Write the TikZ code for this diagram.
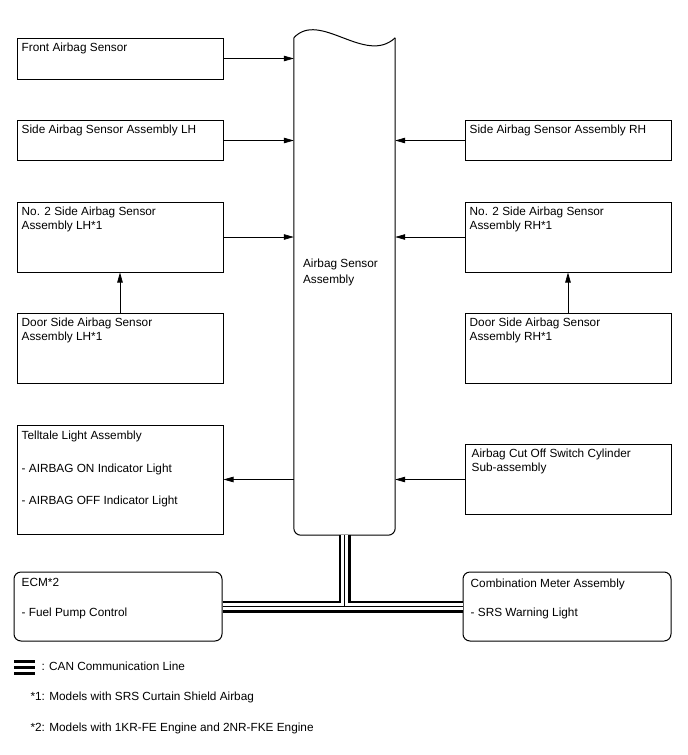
\documentclass[tikz,border=0pt]{standalone}
\usepackage{fontspec}
\setmainfont{Liberation Sans}
\usetikzlibrary{arrows.meta, positioning, calc}

\begin{document}
\begin{tikzpicture}[
			x=1pt, y=-1pt,
			node distance=40.5pt and 241pt,
			font=\fontsize{11.8}{14}\selectfont,
			unit/.style={rectangle, draw, line width=1pt, minimum width=206pt, inner sep=0pt},
			meter/.style={unit, rounded corners=7pt, minimum width=208pt, minimum height=69pt},
			txt/.style={anchor=north west, inner sep=5pt, align=left},
			arrow/.style={-{Triangle[length=10pt, width=5.5pt]}, line width=0.7pt},
			canbg/.style={line width=12pt, black},
			cangap/.style={line width=7pt, white},
			canmid/.style={line width=1.2pt, black}
		]
		\useasboundingbox (0,0) rectangle (688,755);
		
		% Left column
		\node[unit, minimum height=41pt, label={[txt]north west:Front Airbag Sensor}] (front) at (120,58.5) {};
		\node[unit, minimum height=40pt, below=of front, label={[txt]north west:Side Airbag Sensor Assembly LH}] (sidelh) {};
		\node[unit, minimum height=70pt, below=of sidelh, label={[txt]north west:{No. 2 Side Airbag Sensor\\Assembly LH*1}}] (no2lh) {};
		\node[unit, minimum height=70pt, below=of no2lh, label={[txt]north west:{Door Side Airbag Sensor\\Assembly LH*1}}] (doorlh) {};
		\node[unit, minimum height=109pt, below=of doorlh, label={[txt, yshift=-1pt]north west:{Telltale Light Assembly\\[19pt]- AIRBAG ON Indicator Light\\[18pt]- AIRBAG OFF Indicator Light}}] (tell) {};
		
		% Right column
		\node[unit, minimum height=40pt, right=of sidelh, label={[txt]north west:Side Airbag Sensor Assembly RH}] (siderh) {};
		\node[unit, minimum height=70pt, right=of no2lh, label={[txt]north west:{No. 2 Side Airbag Sensor\\Assembly RH*1}}] (no2rh) {};
		\node[unit, minimum height=70pt, right=of doorlh, label={[txt]north west:{Door Side Airbag Sensor\\Assembly RH*1}}] (doorrh) {};
		\node[unit, minimum height=70pt, right=of tell, label={[txt, xshift=2pt]north west:{Airbag Cut Off Switch Cylinder\\Sub-assembly}}] (cutoff) {};
		
		% Airbag sensor assembly
		\node[minimum width=101pt, minimum height=497pt, inner sep=0pt] (ecu) at (344.5,286.5) {};
		\draw[line width=1pt, rounded corners=7pt] (ecu.north west) -- (ecu.south west) -- (ecu.south east) -- (ecu.north east);
		\draw[line width=1pt] (ecu.north west) .. controls ($(ecu.north west)+(26,-28)$) and ($(ecu.north east)+(-30,28)$) .. (ecu.north east);
		\node[anchor=west, align=left] (ecutxt) at (299.5,272) {Airbag Sensor\\[2pt]Assembly};
		
		\node[meter, label={[txt, xshift=3pt, yshift=-2pt]north west:{ECM*2\\[16pt]- Fuel Pump Control}}] (ecm) at (118,606.5) {};
		\node[meter, label={[txt, xshift=3pt, yshift=-2pt]north west:{Combination Meter Assembly\\[15pt]- SRS Warning Light}}] (comb) at (567,606.5) {};
		
		\draw[arrow] (front) -- (front -| ecu.west);
		\draw[arrow] (sidelh) -- (sidelh -| ecu.west);
		\draw[arrow] (no2lh) -- (no2lh -| ecu.west);
		\draw[arrow] (doorlh) -- (no2lh);
		\draw[arrow] (siderh) -- (siderh -| ecu.east);
		\draw[arrow] (no2rh) -- (no2rh -| ecu.east);
		\draw[arrow] (doorrh) -- (no2rh);
		\draw[arrow] (cutoff) -- (cutoff -| ecu.east);
		\draw[arrow] (ecu.west |- tell) -- (tell);
		
		% CAN lines
		\coordinate (busjoin) at (ecu.south |- ecm.east);
		\foreach \lay in {canbg, cangap, canmid} {
			\draw[\lay] (ecm.east) -- (comb.west);
			\draw[\lay] (ecu.south) -- (busjoin);
		}
		
		% Legend
		\coordinate (legl) at (14,667);
		\coordinate (legr) at (35,667);
		\draw[line width=15pt] (legl) -- (legr);
		\draw[line width=9pt, white] (legl) -- (legr);
		\draw[line width=3pt] (legl) -- (legr);
		\node[anchor=west] (legtxt) at (38,666) {: CAN Communication Line};
		\node[anchor=west] (note1) at (27,697) {*1: Models with SRS Curtain Shield Airbag};
		\node[anchor=west] (note2) at (27,728) {*2: Models with 1KR-FE Engine and 2NR-FKE Engine};
		\end{tikzpicture}
\end{document}
